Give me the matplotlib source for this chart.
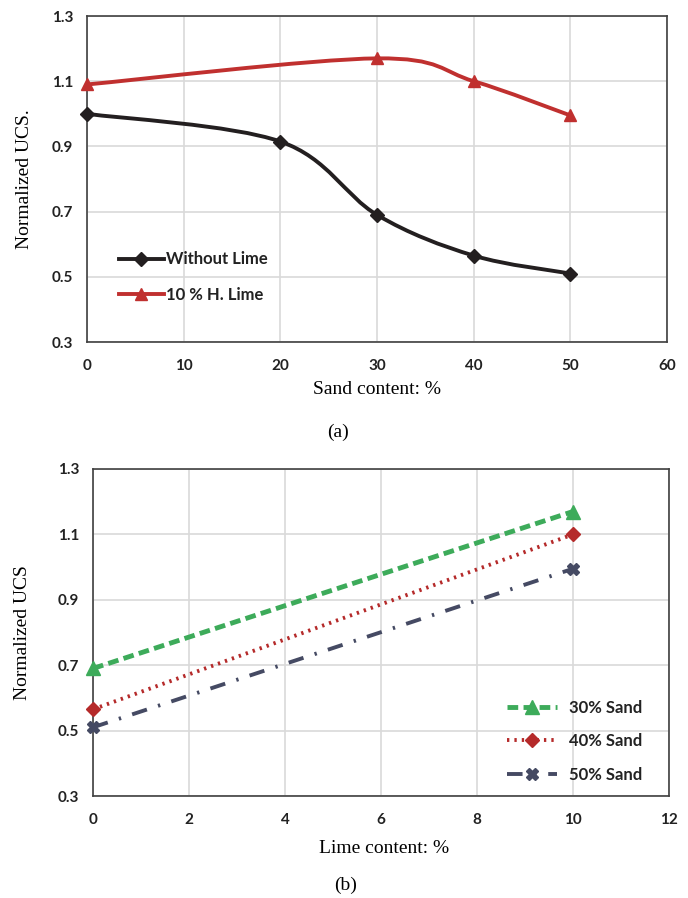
import matplotlib
matplotlib.use("Agg")
import matplotlib.pyplot as plt
import numpy as np
from matplotlib.path import Path
from matplotlib.patches import PathPatch
from matplotlib.lines import Line2D

# ---- data ----
sand = [0, 20, 30, 40, 50]
without_lime = [1.0, 0.915, 0.69, 0.565, 0.51]
sand_lime = [0, 30, 40, 50]
with_lime = [1.09, 1.17, 1.10, 0.995]

lime = [0, 10]
sand30 = [0.69, 1.17]
sand40 = [0.565, 1.10]
sand50 = [0.51, 0.995]

xticks_a = [0, 10, 20, 30, 40, 50, 60]
xticks_b = [0, 2, 4, 6, 8, 10, 12]
yticks = [0.3, 0.5, 0.7, 0.9, 1.1, 1.3]

tick_font = ['Lato', 'DejaVu Sans']
serif = ['Liberation Serif', 'DejaVu Serif']

W, H = 688, 898
fig = plt.figure(figsize=(W / 100, H / 100), dpi=100)


def px_axes(l, t, r, b):
    return fig.add_axes([l / W, 1 - b / H, (r - l) / W, (b - t) / H])


def smooth_path(ax, xs, ys, color, lw):
    # Excel-style smoothed line via cubic Bezier segments (rendering only)
    xs = np.asarray(xs, float); ys = np.asarray(ys, float)
    n = len(xs)
    verts = [(xs[0], ys[0])]
    codes = [Path.MOVETO]
    for i in range(n - 1):
        x0, y0 = (xs[i - 1], ys[i - 1]) if i > 0 else (xs[i], ys[i])
        x1, y1 = xs[i], ys[i]
        x2, y2 = xs[i + 1], ys[i + 1]
        x3, y3 = (xs[i + 2], ys[i + 2]) if i + 2 < n else (x2, y2)
        t = 1 / 6
        c1 = (x1 + (x2 - x0) * t, y1 + (y2 - y0) * t)
        c2 = (x2 - (x3 - x1) * t, y2 - (y3 - y1) * t)
        verts += [c1, c2, (x2, y2)]
        codes += [Path.CURVE4] * 3
    patch = PathPatch(Path(verts, codes), facecolor='none', edgecolor=color,
                      lw=lw, zorder=3, capstyle='round', joinstyle='round')
    ax.add_patch(patch)


def style_axes(ax, xticks):
    ax.set_ylim(0.3, 1.3)
    ax.set_yticks(yticks)
    ax.set_xticks(xticks)
    ax.set_xlim(xticks[0], xticks[-1])
    ax.grid(True, color='#d9d9d9', lw=1.2)
    ax.set_axisbelow(True)
    for s in ax.spines.values():
        s.set_color('#404040')
        s.set_linewidth(1.2)
    ax.tick_params(axis='y', length=0, pad=10)
    ax.tick_params(axis='x', length=0, pad=12)
    ax.set_yticklabels([f"{v:.1f}" for v in yticks])
    ax.set_xticklabels([str(v) for v in xticks])
    for lab in ax.get_xticklabels() + ax.get_yticklabels():
        lab.set_fontfamily(tick_font)
        lab.set_fontweight('bold')
        lab.set_fontsize(11)
        lab.set_color('#222222')


# ---- (a) ----
ax1 = px_axes(87, 16, 667, 342)
style_axes(ax1, xticks_a)
black = '#231f20'
red = '#c0302f'
smooth_path(ax1, sand, without_lime, black, 2.8)
ax1.plot(sand, without_lime, ls='none', marker='D', ms=7, color=black, zorder=4,
         clip_on=False)
smooth_path(ax1, sand_lime, with_lime, red, 2.8)
ax1.plot(sand_lime, with_lime, ls='none', marker='^', ms=9, color=red, zorder=4,
         clip_on=False)
h1 = [Line2D([], [], color=black, lw=2.8, marker='D', ms=7),
      Line2D([], [], color=red, lw=2.8, marker='^', ms=9)]
leg1 = ax1.legend(h1, ['Without Lime', '10 % H. Lime'], loc='lower left',
                  bbox_to_anchor=(0.035, 0.085), frameon=False, handlelength=2.7,
                  handletextpad=0.15, labelspacing=1.15, borderpad=0.2,
                  prop={'family': tick_font, 'weight': 'bold', 'size': 12})
for t in leg1.get_texts():
    t.set_color('#222222')
ax1.set_xlabel('Sand content: %', fontfamily=serif, fontsize=14)
ax1.xaxis.set_label_coords(0.5, -0.12)
ax1.set_ylabel('Normalized UCS.', fontfamily=serif, fontsize=14)
ax1.yaxis.set_label_coords(-0.093, 0.5)
fig.text(0.491, 1 - 432 / H, '(a)', fontfamily=serif, fontsize=14,
         ha='center', va='center')

# ---- (b) ----
ax2 = px_axes(93, 469, 669, 796)
style_axes(ax2, xticks_b)
green = '#3dab5a'
dred = '#b52a2a'
slate = '#454a63'
ax2.plot(lime, sand30, color=green, lw=3.5, ls=(0, (2.2, 1.1)), marker='^', ms=10,
         zorder=3, clip_on=False)
ax2.plot(lime, sand40, color=dred, lw=2.8, ls=(0, (0.6, 1.3)), marker='D', ms=7,
         zorder=3, clip_on=False)
ax2.plot(lime, sand50, color=slate, lw=2.8, ls=(0, (4, 3, 0.6, 3)), marker='X', ms=9,
         zorder=3, clip_on=False)
leg2 = ax2.legend(['30% Sand', '40% Sand', '50% Sand'], loc='lower right',
                  bbox_to_anchor=(0.974, 0.005), frameon=False, handlelength=3.0,
                  handletextpad=0.7, labelspacing=1.05, borderpad=0.2,
                  prop={'family': tick_font, 'weight': 'bold', 'size': 12})
for t in leg2.get_texts():
    t.set_color('#222222')
ax2.set_xlabel('Lime content: %', fontfamily=serif, fontsize=14)
ax2.xaxis.set_label_coords(0.505, -0.135)
ax2.set_ylabel('Normalized UCS', fontfamily=serif, fontsize=14)
ax2.yaxis.set_label_coords(-0.107, 0.5)
fig.text(0.502, 1 - 885 / H, '(b)', fontfamily=serif, fontsize=14,
         ha='center', va='center')

fig.savefig('out.png', dpi=100, facecolor='white')
